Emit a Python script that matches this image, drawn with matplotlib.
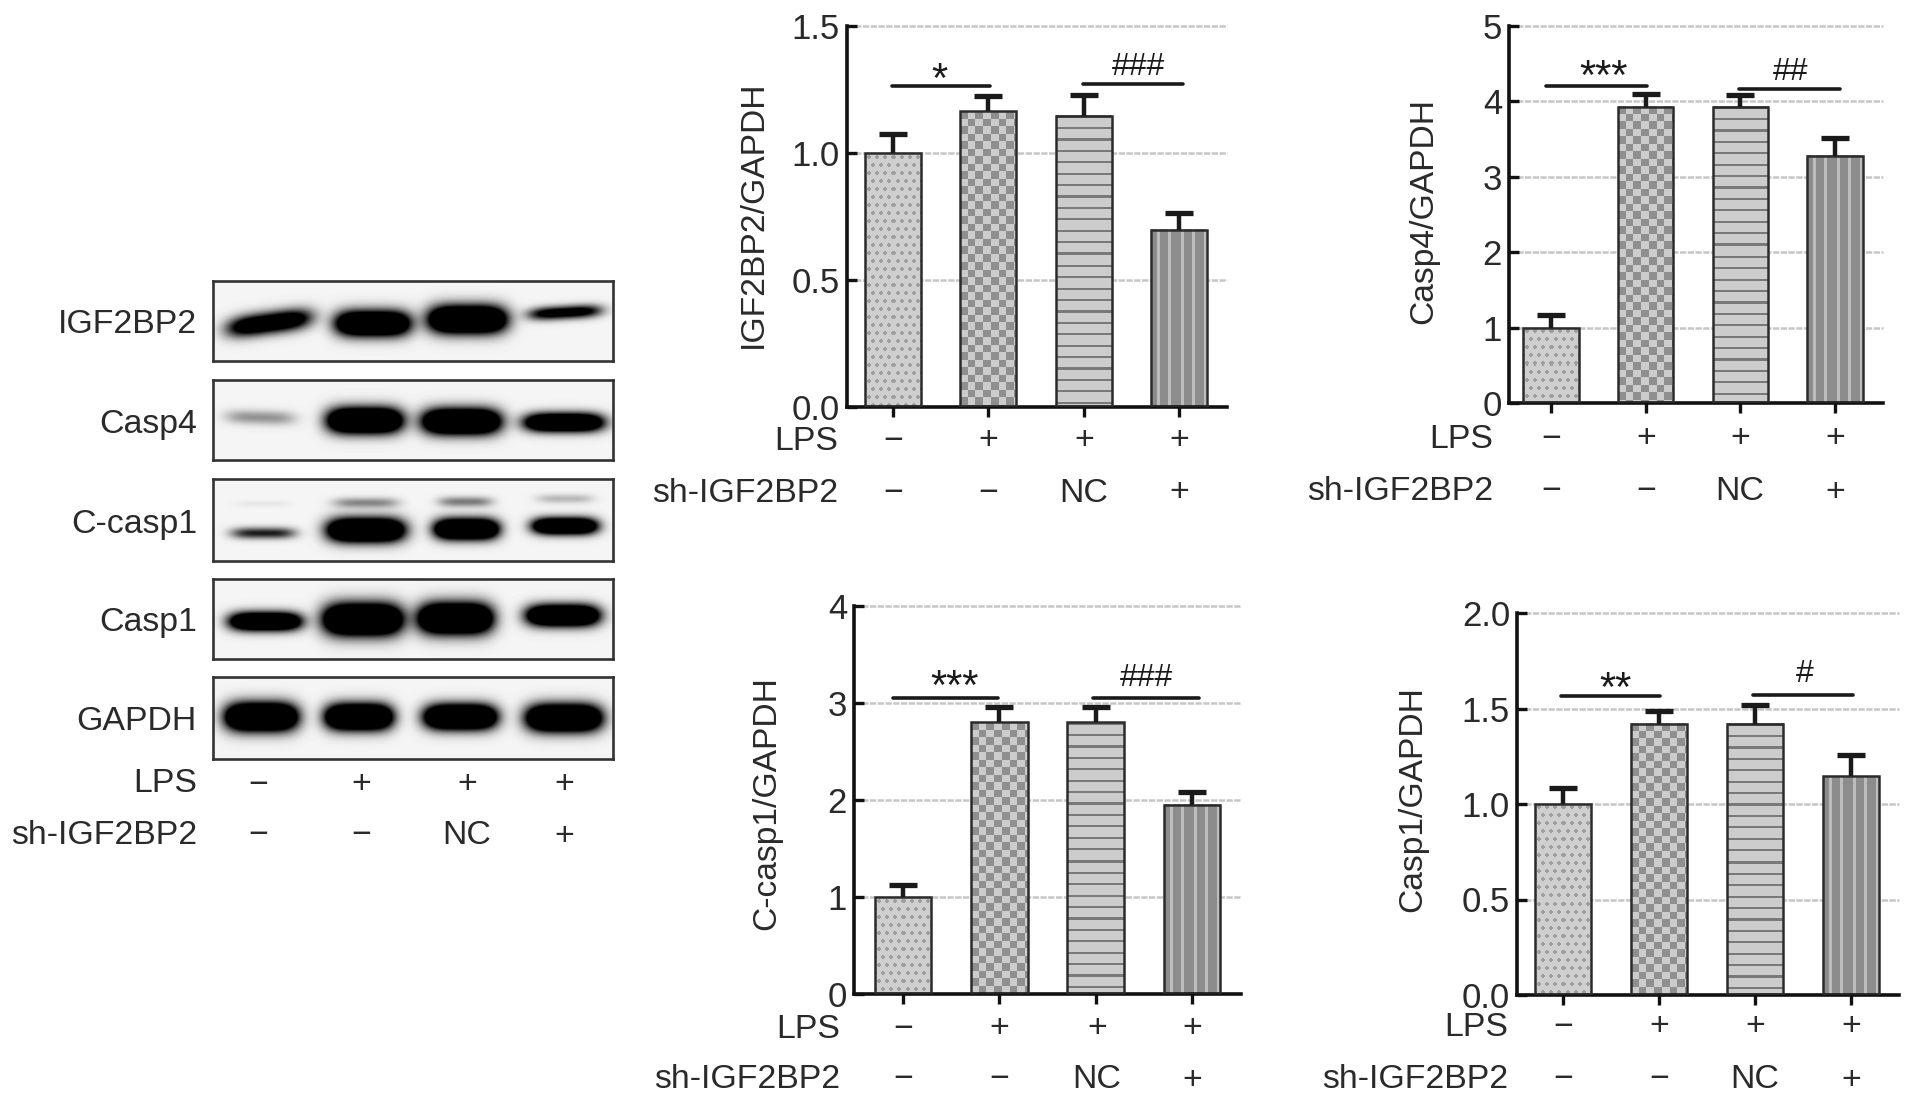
import matplotlib
matplotlib.use('Agg')
import matplotlib.pyplot as plt
import numpy as np

plt.rcParams['font.family'] = ['Liberation Sans', 'DejaVu Sans']

W, H = 1913, 1106
TXT = '#2a2a2a'

#柱状图数据
igf_vals = [1.0, 1.165, 1.147, 0.697]
igf_errs = [0.075, 0.06, 0.08, 0.065]
casp4_vals = [1.0, 3.93, 3.93, 3.28]
casp4_errs = [0.165, 0.17, 0.16, 0.23]
ccasp1_vals = [1.0, 2.8, 2.8, 1.95]
ccasp1_errs = [0.12, 0.16, 0.16, 0.13]
casp1_vals = [1.0, 1.419, 1.419, 1.145]
casp1_errs = [0.085, 0.066, 0.10, 0.11]

lps_row = ['−', '+', '+', '+']
sh_row = ['−', '−', 'NC', '+']

igf_ticks = ['0.0', '0.5', '1.0', '1.5']
casp4_ticks = ['0', '1', '2', '3', '4', '5']
ccasp1_ticks = ['0', '1', '2', '3', '4']
casp1_ticks = ['0.0', '0.5', '1.0', '1.5', '2.0']

#显著性标记: x0, x1, y, 文字, 文字x, 文字y
igf_sig = [(-0.01, 1.02, 1.264, '*', 0.49, 1.30), (1.99, 3.04, 1.272, '###', 2.57, 1.354)]
casp4_sig = [(-0.05, 1.01, 4.21, '***', 0.56, 4.37), (1.985, 3.05, 4.17, '##', 2.53, 4.43)]
ccasp1_sig = [(-0.10, 0.99, 3.05, '***', 0.53, 3.20), (1.97, 3.07, 3.05, '###', 2.53, 3.29)]
casp1_sig = [(-0.02, 1.01, 1.565, '**', 0.55, 1.62), (1.98, 3.02, 1.57, '#', 2.52, 1.70)]

#条带: 起点x, 终点x, 左y, 右y, 厚度, 强度 (相对每个方框的像素)
blot_names = ['IGF2BP2', 'Casp4', 'C-casp1', 'Casp1', 'GAPDH']
blot_boxes = [(281, 361), (380, 460), (479, 561), (579, 659), (677, 759)]
blot_bands = [
    [(14, 98, 47, 36, 19, 1.6), (122, 197, 42, 42, 23, 2.2), (215, 293, 38, 38, 25, 2.4), (315, 388, 33, 29, 11, 1.3)],
    [(12, 82, 36, 38, 12, 0.4), (114, 189, 40, 40, 23, 2.4), (209, 287, 41, 41, 23, 2.4), (311, 390, 42, 42, 16, 2.2)],
    [(18, 82, 54, 54, 9, 0.9), (22, 76, 25, 25, 4, 0.06), (114, 191, 51, 51, 21, 2.4), (120, 185, 24, 24, 8, 0.45),
     (221, 285, 50, 50, 18, 2.4), (225, 279, 23, 23, 8, 0.5), (319, 384, 47, 47, 14, 2.2), (323, 380, 20, 20, 7, 0.25)],
    [(16, 88, 42, 42, 16, 2.2), (110, 189, 40, 40, 29, 2.5), (205, 279, 39, 39, 28, 2.5), (313, 386, 36, 36, 19, 2.3)],
    [(12, 84, 40, 40, 25, 2.5), (112, 179, 40, 40, 23, 2.5), (211, 283, 40, 40, 22, 2.5), (313, 388, 41, 41, 24, 2.5)],
]

blot_lps_x = [258, 361, 467, 564]
axis_font = 25
label_font = 24.4


def axes_px(l, t, r, b):
    return fig.add_axes([l / W, 1 - b / H, (r - l) / W, (b - t) / H])


def fig_text(x, y, s, **kw):
    kw.setdefault('fontsize', label_font)
    kw.setdefault('color', TXT)
    kw.setdefault('va', 'center')
    fig.text(x / W, 1 - y / H, s, **kw)


def pattern(kind, w, h):
    yy, xx = np.mgrid[0:h, 0:w]
    if kind == 0:
        #错位的点
        row = (yy // 8) % 2
        px = (xx + row * 4) % 8
        py = yy % 8
        d = (px - 3.5) ** 2 + (py - 3.5) ** 2
        return np.where(d < 4, 0.62, 0.81)
    if kind == 1:
        #棋盘格
        a = ((xx // 7.5).astype(int) + (yy // 7.5).astype(int)) % 2
        return np.where(a == 0, 0.56, 0.80)
    if kind == 2:
        #横线
        return np.where(yy % 11.4 < 2.2, 0.48, 0.80)
    #竖线
    return np.where((xx + 6) % 11.4 < 3, 0.74, 0.55)


def bar_panel(box, bars_x, vals, errs, ticks, sig, ylabel, ylab_xy, lab_right, rows_y):
    l, t, r, b = box
    ax = axes_px(l, t, r, b)
    step = (bars_x[3] - bars_x[0]) / 3
    x0 = -(bars_x[0] - l) / step
    x1 = 3 + (r - bars_x[3]) / step
    ymax = float(ticks[-1])
    yvals = [float(v) for v in ticks]
    xs = np.arange(4)
    ax.set_xlim(x0, x1)
    ax.set_ylim(0, ymax)
    for v in yvals[1:]:
        ax.axhline(v, color='#c6c6c6', lw=1.8, ls=(0, (2.5, 0.6)), zorder=0, clip_on=False)
    bw = 0.585
    px_h = (b - t) / ymax
    for i in xs:
        im = pattern(i, int(bw * step), max(int(vals[i] * px_h), 1))
        ax.imshow(im, extent=(i - bw / 2, i + bw / 2, 0, vals[i]), cmap='gray', vmin=0, vmax=1,
                  aspect='auto', interpolation='nearest', zorder=2)
    ax.set_xlim(x0, x1)
    ax.set_ylim(0, ymax)
    ax.bar(xs, vals, width=bw, facecolor='none', edgecolor='#2b2b2b', linewidth=1.8, zorder=3)
    eb = ax.errorbar(xs, vals, yerr=[np.zeros(4), errs], fmt='none', ecolor='#1a1a1a', elinewidth=3.2,
                     capsize=10, capthick=3.8, zorder=3)
    eb[1][0].set_visible(False)
    for s in ['top', 'right']:
        ax.spines[s].set_visible(False)
    for s in ['left', 'bottom']:
        ax.spines[s].set_linewidth(2.6)
        ax.spines[s].set_color('#111111')
    ax.patch.set_alpha(0)
    ax.set_yticks(yvals)
    ax.set_yticklabels(ticks, fontsize=axis_font, color=TXT)
    ax.set_xticks(xs)
    ax.set_xticklabels([])
    ax.tick_params(axis='y', direction='in', length=7, width=2.4, pad=5, color='#111111')
    ax.tick_params(axis='x', direction='out', length=7, width=2.4, color='#111111')
    for a, c, y, s, tx, ty in sig:
        ax.plot([a, c], [y, y], color='#1a1a1a', lw=2.6, solid_capstyle='round', zorder=4, clip_on=False)
        fs = 30 if '*' in s else 23
        ax.text(tx, ty, s, ha='center', va='center_baseline', fontsize=fs, color='#1a1a1a')
    fig_text(ylab_xy[0], ylab_xy[1], ylabel, rotation=90, ha='center', fontsize=24.2)
    fig_text(lab_right + 3, rows_y[0], 'LPS', ha='right')
    fig_text(lab_right + 3, rows_y[1], 'sh-IGF2BP2', ha='right')
    for i in xs:
        fig_text(bars_x[i], rows_y[0], lps_row[i], ha='center')
        fig_text(bars_x[i], rows_y[1], sh_row[i], ha='center')


def blot_panel():
    left, right = 213, 613
    for name, (top, bot), bands in zip(blot_names, blot_boxes, blot_bands):
        ax = axes_px(left, top, right, bot)
        h, w = bot - top, right - left
        yy, xx = np.mgrid[0:h, 0:w]
        dens = np.zeros((h, w))
        for x_a, x_b, y_a, y_b, th, st in bands:
            xc = (x_a + x_b) / 2
            hw = (x_b - x_a) / 2
            line = y_a + (y_b - y_a) * (xx - x_a) / (x_b - x_a)
            r = (np.abs(xx - xc) / hw) ** 4 + (np.abs(yy - line) / (th / 2 + 1)) ** 2
            dens += st * np.exp(-r)
        im = 0.96 - np.clip(dens, 0, 1) * 0.96
        ax.imshow(im, cmap='gray', vmin=0, vmax=1, aspect='auto', interpolation='bilinear')
        ax.set_xticks([])
        ax.set_yticks([])
        for s in ax.spines.values():
            s.set_linewidth(1.9)
            s.set_color('#333333')
        fig_text(197, (top + bot) / 2 + 4, name, ha='right')
    fig_text(197, 783, 'LPS', ha='right')
    fig_text(197, 836, 'sh-IGF2BP2', ha='right')
    for i in range(4):
        fig_text(blot_lps_x[i], 785, lps_row[i], ha='center')
        fig_text(blot_lps_x[i], 836, sh_row[i], ha='center')


fig = plt.figure(figsize=(W / 100, H / 100), dpi=100)
blot_panel()
bar_panel((847, 26, 1227, 407), [893, 988, 1084, 1179], igf_vals, igf_errs, igf_ticks, igf_sig,
          'IGF2BP2/GAPDH', (753, 214), 835, (441, 493))
bar_panel((1509, 26, 1883, 403), [1551, 1646, 1740, 1835], casp4_vals, casp4_errs, casp4_ticks, casp4_sig,
          'Casp4/GAPDH', (1424, 211), 1490, (439, 492))
bar_panel((854, 606, 1241, 994), [903, 999, 1097, 1192], ccasp1_vals, ccasp1_errs, ccasp1_ticks, ccasp1_sig,
          'C-casp1/GAPDH', (767, 803), 837, (1029, 1080))
bar_panel((1517, 613, 1899, 995), [1563, 1659, 1755, 1851], casp1_vals, casp1_errs, casp1_ticks, casp1_sig,
          'Casp1/GAPDH', (1413, 799), 1505, (1027, 1080))
fig.savefig('out.png', dpi=100)
